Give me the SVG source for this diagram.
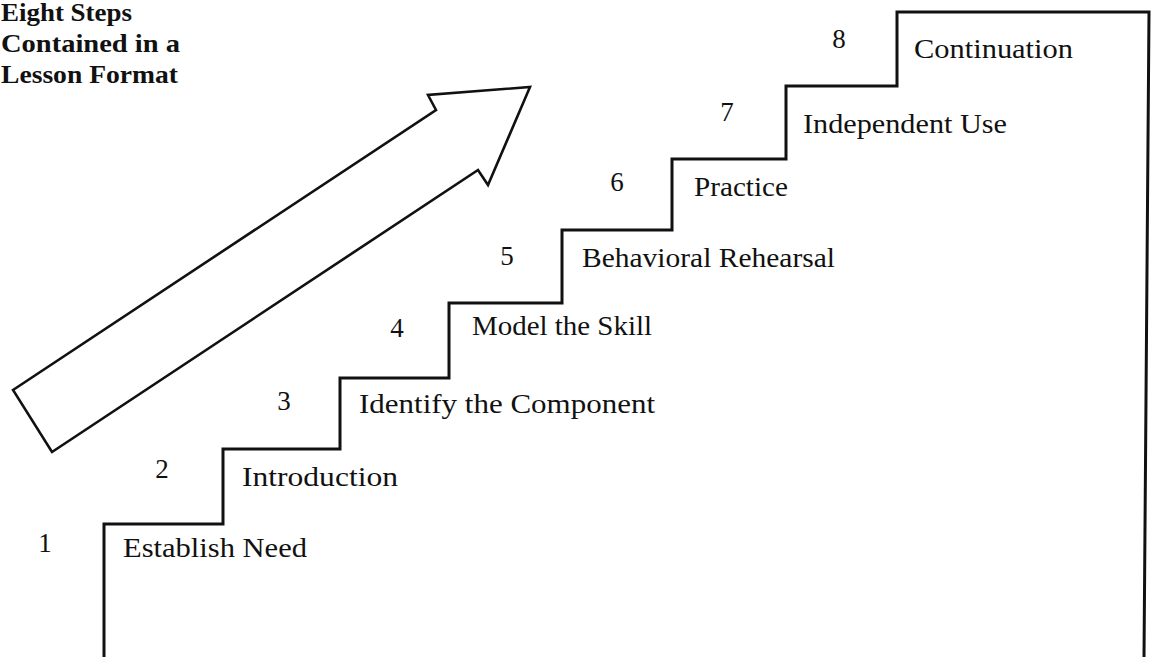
<svg xmlns="http://www.w3.org/2000/svg" width="1155" height="657" viewBox="0 0 1155 657">
<style>
.line{fill:none;stroke:#111;stroke-width:3;stroke-linejoin:miter;stroke-linecap:square}
.arrow{fill:#fff;stroke:#111;stroke-width:2.6;stroke-linejoin:miter}
.lbl{font-family:"Liberation Serif","Times New Roman",serif;font-size:28px;fill:#111}
.num{font-family:"Liberation Serif","Times New Roman",serif;font-size:27px;fill:#111;text-anchor:middle}
.title{font-family:"Liberation Serif","Times New Roman",serif;font-size:26px;font-weight:bold;fill:#111}
</style>
<rect width="1155" height="657" fill="#fff"/>
<g id="title">
<text class="title" x="1" y="21" textLength="131" lengthAdjust="spacingAndGlyphs">Eight Steps</text>
<text class="title" x="1" y="52" textLength="179" lengthAdjust="spacingAndGlyphs">Contained in a</text>
<text class="title" x="1" y="83" textLength="177" lengthAdjust="spacingAndGlyphs">Lesson Format</text>
</g>
<g id="arrow">
<path class="arrow" d="M13,390 L436,110 L428,95 L530,87 L488,185 L478,170 L52,452 Z"/>
</g>
<g id="connectors">
<path class="line" d="M104,657 V524 H223 V449 H340 V378 H449 V303 H562 V230 H672 V159 H786 V86 H897 V12 H1149 L1144,657"/>
</g>
<g id="step1">
<text class="num" x="45" y="552">1</text>
<text class="lbl" x="123" y="557" textLength="184" lengthAdjust="spacingAndGlyphs">Establish Need</text>
</g>
<g id="step2">
<text class="num" x="162" y="478">2</text>
<text class="lbl" x="242" y="486" textLength="156" lengthAdjust="spacingAndGlyphs">Introduction</text>
</g>
<g id="step3">
<text class="num" x="284" y="410">3</text>
<text class="lbl" x="359" y="413" textLength="296" lengthAdjust="spacingAndGlyphs">Identify the Component</text>
</g>
<g id="step4">
<text class="num" x="397" y="337">4</text>
<text class="lbl" x="472" y="335" textLength="180" lengthAdjust="spacingAndGlyphs">Model the Skill</text>
</g>
<g id="step5">
<text class="num" x="507" y="265">5</text>
<text class="lbl" x="582" y="267" textLength="253" lengthAdjust="spacingAndGlyphs">Behavioral Rehearsal</text>
</g>
<g id="step6">
<text class="num" x="617" y="191">6</text>
<text class="lbl" x="694" y="196" textLength="94" lengthAdjust="spacingAndGlyphs">Practice</text>
</g>
<g id="step7">
<text class="num" x="727" y="121">7</text>
<text class="lbl" x="803" y="133" textLength="204" lengthAdjust="spacingAndGlyphs">Independent Use</text>
</g>
<g id="step8">
<text class="num" x="839" y="48">8</text>
<text class="lbl" x="914" y="58" textLength="159" lengthAdjust="spacingAndGlyphs">Continuation</text>
</g>
</svg>
